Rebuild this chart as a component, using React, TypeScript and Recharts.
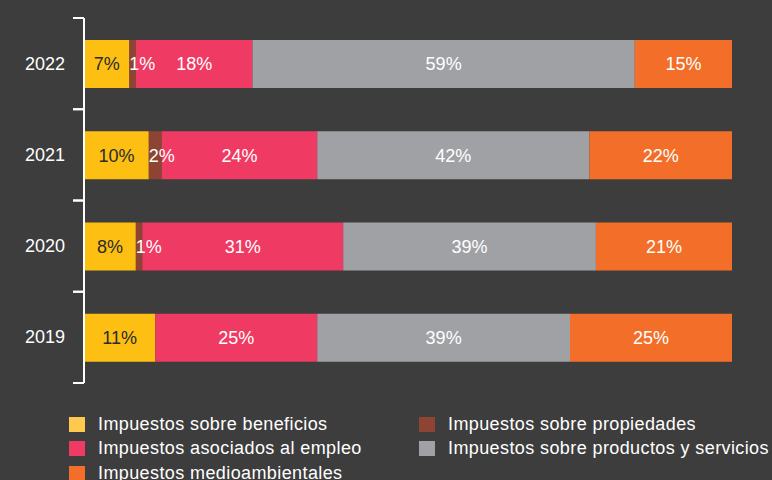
import { Bar, BarChart, LabelList, XAxis, YAxis } from 'recharts';

const years = ['2022', '2021', '2020', '2019'];
const beneficios = [7, 10, 8, 11];
const propiedades = [1, 2, 1, 0];
const empleo = [18, 24, 31, 25];
const productos = [59, 42, 39, 39];
const medioambientales = [15, 22, 21, 25];

const series = [
  { key: 'beneficios', name: 'Impuestos sobre beneficios', values: beneficios, color: '#fcbf12', legend: '#ffc84e', text: '#2b2b2b' },
  { key: 'propiedades', name: 'Impuestos sobre propiedades', values: propiedades, color: '#8e4432', legend: '#8e4432', text: '#ffffff' },
  { key: 'empleo', name: 'Impuestos asociados al empleo', values: empleo, color: '#ef3a63', legend: '#ef3a63', text: '#ffffff' },
  { key: 'productos', name: 'Impuestos sobre productos y servicios', values: productos, color: '#a0a1a5', legend: '#a0a1a5', text: '#ffffff' },
  { key: 'medioambientales', name: 'Impuestos medioambientales', values: medioambientales, color: '#f36f29', legend: '#f36f29', text: '#ffffff' },
];

const data = years.map((year, i) => {
  const row: Record<string, string | number> = { year };
  series.forEach((s) => {
    row[s.key] = s.values[i];
  });
  return row;
});

const FONT = '"Liberation Sans", Arial, Helvetica, sans-serif';
const TOP = 18;
const BOTTOM = 383;
const AXIS_X = 84;
const BAND = (BOTTOM - TOP) / years.length;

function YearTick({ y, payload }: any) {
  return (
    <g>
      <text x={65} y={y} dy={6} textAnchor="end" fill="#ffffff" fontSize={18} fontFamily={FONT}>
        {payload.value}
      </text>
      <line x1={AXIS_X - 11} x2={AXIS_X} y1={y - BAND / 2} y2={y - BAND / 2} stroke="#ffffff" strokeWidth={2} />
      <line x1={AXIS_X - 11} x2={AXIS_X} y1={y + BAND / 2} y2={y + BAND / 2} stroke="#ffffff" strokeWidth={2} />
    </g>
  );
}

const legendOrder = [
  [series[0], series[1]],
  [series[2], series[3]],
  [series[4]],
];

export default function App() {
  return (
    <div style={{ position: 'fixed', left: 0, top: 0, width: 772, height: 480, background: '#3d3d3d', overflow: 'hidden', fontFamily: FONT }}>
      <BarChart
        width={772}
        height={400}
        data={data}
        layout="vertical"
        barSize={48}
        margin={{ top: TOP, right: 40, bottom: 400 - BOTTOM, left: 0 }}
      >
        <XAxis type="number" domain={[0, 100]} hide />
        <YAxis
          type="category"
          dataKey="year"
          width={AXIS_X}
          axisLine={{ stroke: '#ffffff', strokeWidth: 2 }}
          tickLine={false}
          tick={<YearTick />}
        />
        {series.map((s) => (
          <Bar key={s.key} dataKey={s.key} stackId="a" fill={s.color} isAnimationActive={false}>
            <LabelList
              dataKey={s.key}
              position={s.key === 'propiedades' ? 'insideLeft' : 'center'}
              offset={0}
              fill={s.text}
              fontSize={18}
              fontFamily={FONT}
              formatter={(v: any) => (v ? `${v}%` : '')}
            />
          </Bar>
        ))}
      </BarChart>
      <div style={{ position: 'absolute', left: 69, top: 412 }}>
        {legendOrder.map((row, ri) => (
          <div key={ri} style={{ display: 'flex', height: 24.5 }}>
            {row.map((s) => (
              <div
                key={s.key}
                style={{ display: 'flex', alignItems: 'center', width: 350, color: '#ffffff', fontSize: 18, letterSpacing: 0.4, whiteSpace: 'nowrap' }}
              >
                <span style={{ display: 'inline-block', width: 16, height: 15, background: s.legend, marginRight: 13, flexShrink: 0 }} />
                {s.name}
              </div>
            ))}
          </div>
        ))}
      </div>
    </div>
  );
}
